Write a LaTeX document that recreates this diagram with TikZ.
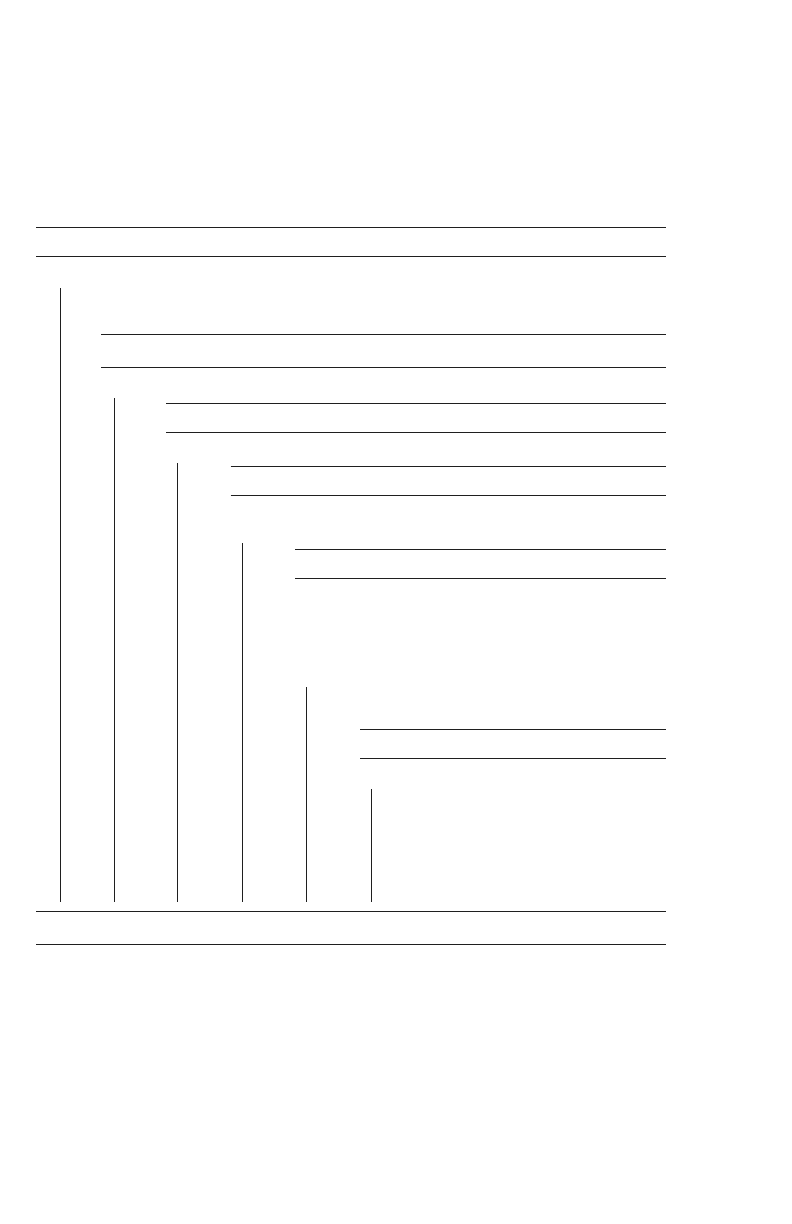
\documentclass[tikz,border=0pt]{standalone}
\begin{document}
\begin{tikzpicture}[x=1pt,y=-1pt,rule/.style={line width=1pt,color=black!88}]
\useasboundingbox (0,0) rectangle (792,1224);
% horizontal pairs
\foreach \xs/\ya/\yb in {36/227.3/256.3, 101/334.3/367, 166/403.3/432.3, 230.5/466.3/495.3, 295/549.3/578.3, 360/729.3/758.3, 36/911.3/944.3}{
  \draw[rule] (\xs,\ya) -- (665.7,\ya);
  \draw[rule] (\xs,\yb) -- (665.7,\yb);
}
% vertical lines
\foreach \x/\ys in {60.3/288, 114.3/398, 177.3/463, 242.3/543, 306.3/687, 371.3/789}{
  \draw[rule] (\x,\ys) -- (\x,902.3);
}
\end{tikzpicture}
\end{document}
